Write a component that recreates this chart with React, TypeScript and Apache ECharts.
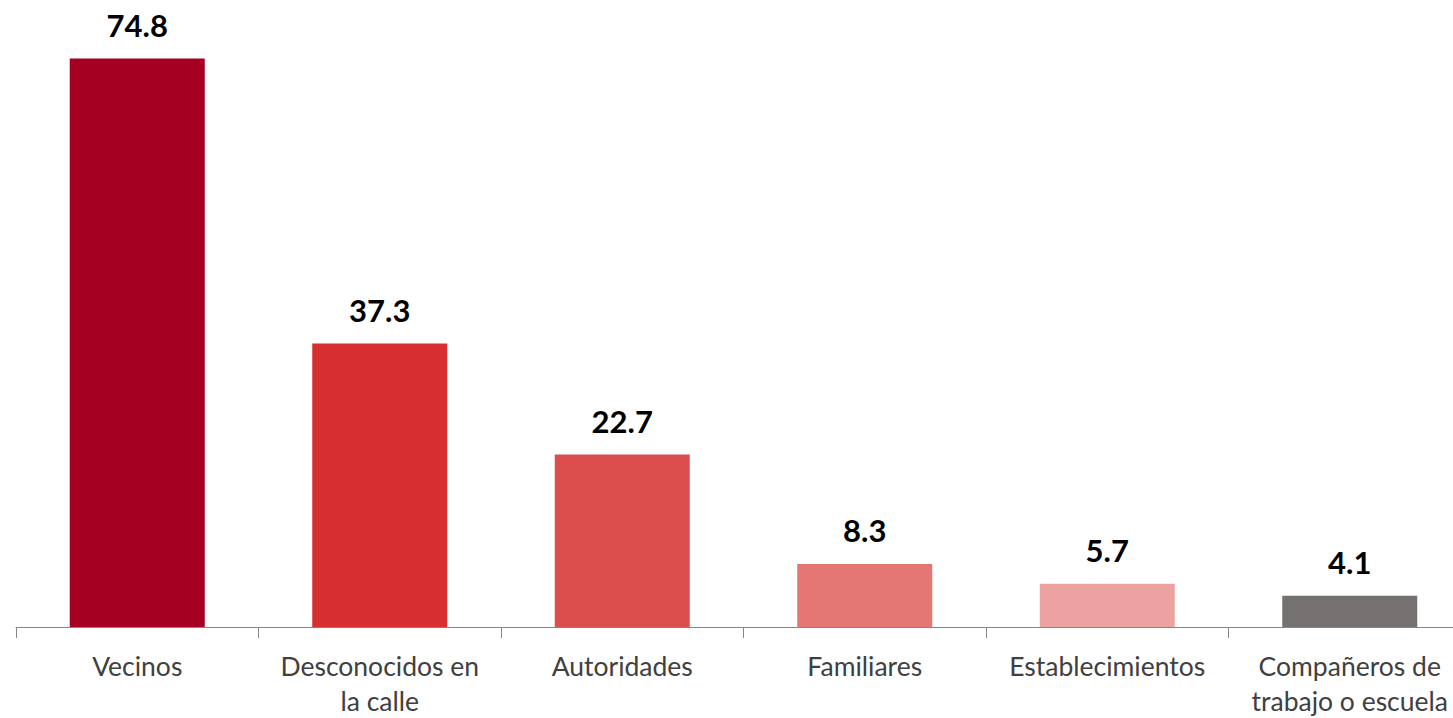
import React, { useEffect, useRef } from "react";
import * as echarts from "echarts";

const categories = [
  "Vecinos",
  "Desconocidos en\nla calle",
  "Autoridades",
  "Familiares",
  "Establecimientos",
  "Compañeros de\ntrabajo o escuela",
];
const values = [74.8, 37.3, 22.7, 8.3, 5.7, 4.1];
const colors = ["#A50021", "#D72F2F", "#DC4E4E", "#E47773", "#EDA2A2", "#767171"];

export default function App() {
  const ref = useRef<HTMLDivElement>(null);
  useEffect(() => {
    if (!ref.current) return;
    const chart = echarts.init(ref.current, undefined, { renderer: "svg" });
    chart.setOption({
      animation: false,
      grid: { left: 16, right: 0, top: 19, bottom: 86, containLabel: false },
      xAxis: {
        type: "category",
        data: categories,
        axisLine: { show: true, lineStyle: { color: "#868686", width: 1 } },
        axisTick: { show: true, length: 11, lineStyle: { color: "#868686" } },
        axisLabel: {
          interval: 0,
          margin: 21,
          fontFamily: "Lato",
          fontSize: 26.5,
          lineHeight: 35,
          color: "#404040",
        },
      },
      yAxis: {
        type: "value",
        min: 0,
        max: 80,
        show: false,
        splitLine: { show: false },
      },
      series: [
        {
          type: "bar",
          barWidth: 135,
          data: values.map((v, i) => ({ value: v, itemStyle: { color: colors[i] } })),
          label: {
            show: true,
            position: "top",
            distance: 18,
            fontFamily: "Lato",
            fontWeight: "bold",
            fontSize: 31,
            color: "#000000",
            formatter: (p: any) => p.value.toFixed(1),
          },
        },
      ],
    });
    return () => chart.dispose();
  }, []);
  return (
    <div
      style={{
        position: "fixed",
        left: 0,
        top: 0,
        width: 1453,
        height: 718,
        overflow: "hidden",
        background: "#ffffff",
      }}
    >
      <div ref={ref} style={{ width: 1471, height: 718 }} />
    </div>
  );
}
